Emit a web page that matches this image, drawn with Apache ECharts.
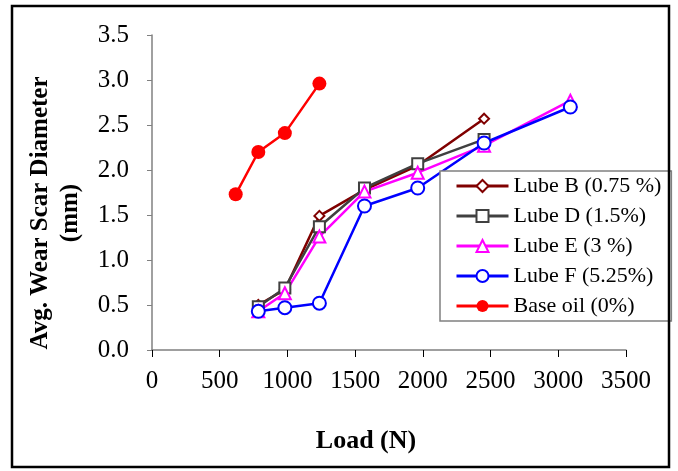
<!DOCTYPE html>
<html>
<head>
<meta charset="utf-8">
<script src="https://cdn.jsdelivr.net/npm/echarts@6/dist/echarts.min.js"></script>
<style>
html,body{margin:0;padding:0;background:#fff;}
#c{width:678px;height:471px;}
</style>
</head>
<body>
<div id="c"></div>
<script>
// Data
const seriesNames = ['Lube B (0.75 %)', 'Lube D (1.5%)', 'Lube E (3 %)', 'Lube F (5.25%)', 'Base oil (0%)'];
const loadsB = [785, 981, 1236, 1569, 1962, 2452];
const lubeB = [0.50, 0.67, 1.49, 1.78, 2.05, 2.57];
const loadsD = [785, 981, 1236, 1569, 1962, 2452];
const lubeD = [0.48, 0.69, 1.37, 1.80, 2.07, 2.34];
const loadsE = [785, 981, 1236, 1569, 1962, 2452, 3089];
const lubeE = [0.43, 0.63, 1.26, 1.76, 1.97, 2.27, 2.77];
const loadsF = [785, 981, 1236, 1569, 1962, 2452, 3089];
const lubeF = [0.43, 0.47, 0.52, 1.60, 1.80, 2.30, 2.70];
const loadsBase = [618, 785, 981, 1236];
const baseOil = [1.73, 2.20, 2.41, 2.96];
const xTicks = { min: 0, max: 3500, interval: 500 };
const yTicks = { min: 0, max: 3.5, interval: 0.5 };

const pair = (xs, ys) => xs.map((x, i) => [x, ys[i]]);
const FONT = 'Liberation Serif';

const chart = echarts.init(document.getElementById('c'), null, { renderer: 'canvas' });

function lineSeries(name, data, color, symbol, size, filled) {
  return {
    name: name,
    type: 'line',
    data: data,
    symbol: symbol,
    symbolSize: size,
    showAllSymbol: true,
    lineStyle: { color: color, width: 2.5 },
    itemStyle: { color: filled ? color : '#fff', borderColor: color, borderWidth: filled ? 0 : 2 },
    emphasis: { disabled: true },
    animation: false
  };
}

chart.setOption({
  animation: false,
  textStyle: { fontFamily: FONT },
  grid: { left: 152, right: 52, top: 35, bottom: 121, containLabel: false },
  xAxis: {
    type: 'value',
    min: xTicks.min, max: xTicks.max, interval: xTicks.interval,
    axisLine: { show: true, onZero: false, lineStyle: { color: '#808080', width: 1.5 } },
    axisTick: { show: true, inside: false, length: 7, lineStyle: { color: '#000', width: 1 } },
    axisLabel: { color: '#000', fontSize: 25, fontFamily: FONT, margin: 19, formatter: v => String(v) },
    splitLine: { show: false }
  },
  yAxis: {
    type: 'value',
    min: yTicks.min, max: yTicks.max, interval: yTicks.interval,
    axisLine: { show: true, lineStyle: { color: '#808080', width: 1.5 } },
    axisTick: { show: true, inside: false, length: 5, lineStyle: { color: '#808080', width: 1 } },
    axisLabel: { color: '#000', fontSize: 25, fontFamily: FONT, margin: 23, formatter: v => v.toFixed(1) },
    splitLine: { show: false }
  },
  legend: {
    orient: 'vertical',
    left: 440, top: 171,
    padding: [4, 10, 4, 15],
    itemWidth: 52, itemHeight: 15, itemGap: 8,
    backgroundColor: '#fff',
    borderColor: '#808080', borderWidth: 1.5, borderRadius: 0,
    lineStyle: { width: 3 },
    textStyle: { color: '#000', fontSize: 22, lineHeight: 22, fontFamily: FONT },
    data: seriesNames,
    selectedMode: false
  },
  series: [
    lineSeries(seriesNames[0], pair(loadsB, lubeB), '#800000', 'diamond', 10, false),
    lineSeries(seriesNames[1], pair(loadsD, lubeD), '#404040', 'rect', 11, false),
    lineSeries(seriesNames[2], pair(loadsE, lubeE), '#ff00ff', 'triangle', 12, false),
    lineSeries(seriesNames[3], pair(loadsF, lubeF), '#0000ff', 'circle', 13, false),
    lineSeries(seriesNames[4], pair(loadsBase, baseOil), '#ff0000', 'circle', 14, true)
  ],
  graphic: [
    { type: 'rect', silent: true, z: 100,
      shape: { x: 12, y: 6, width: 657, height: 461 },
      style: { fill: 'none', stroke: '#000', lineWidth: 2.5 } },
    { type: 'text', silent: true, x: 56, y: 213, rotation: Math.PI / 2,
      style: { text: 'Avg. Wear Scar Diameter\n(mm)', fill: '#000', fontFamily: FONT, fontWeight: 'bold', fontSize: 25, lineHeight: 30, align: 'center', verticalAlign: 'middle' } },
    { type: 'text', silent: true, x: 366, y: 441,
      style: { text: 'Load (N)', fill: '#000', fontFamily: FONT, fontWeight: 'bold', fontSize: 26, align: 'center', verticalAlign: 'middle' } }
  ]
});
</script>
</body>
</html>
